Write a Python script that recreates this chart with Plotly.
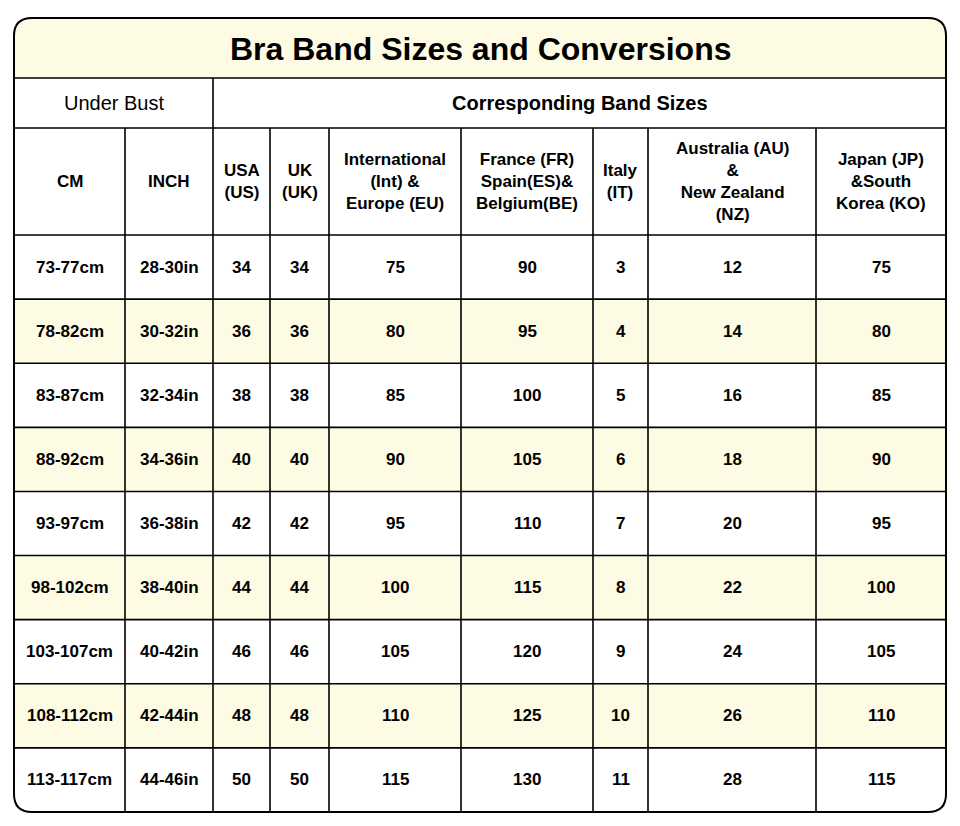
import plotly.graph_objects as go

title = "Bra Band Sizes and Conversions"
group_left = "Under Bust"
group_right = "Corresponding Band Sizes"
headers = ["CM", "INCH", "USA<br>(US)", "UK<br>(UK)", "International<br>(Int) &<br>Europe (EU)",
           "France (FR)<br>Spain(ES)&<br>Belgium(BE)", "Italy<br>(IT)",
           "Australia (AU)<br>&<br>New Zealand<br>(NZ)", "Japan (JP)<br>&South<br>Korea (KO)"]

cm = ["73-77cm", "78-82cm", "83-87cm", "88-92cm", "93-97cm", "98-102cm", "103-107cm", "108-112cm", "113-117cm"]
inch = ["28-30in", "30-32in", "32-34in", "34-36in", "36-38in", "38-40in", "40-42in", "42-44in", "44-46in"]
us = [34, 36, 38, 40, 42, 44, 46, 48, 50]
uk = [34, 36, 38, 40, 42, 44, 46, 48, 50]
eu = [75, 80, 85, 90, 95, 100, 105, 110, 115]
fr = [90, 95, 100, 105, 110, 115, 120, 125, 130]
it = [3, 4, 5, 6, 7, 8, 9, 10, 11]
au = [12, 14, 16, 18, 20, 22, 24, 26, 28]
jp = [75, 80, 85, 90, 95, 100, 105, 110, 115]
columns = [cm, inch, us, uk, eu, fr, it, au, jp]

# layout geometry (pixels)
xs = [14, 125, 213, 270, 329, 461, 593, 648, 816, 946]
y_title, y_grp, y_hdr, y_data = 18, 78, 128, 235
row_h = (812 - 235) / 9
ys = [y_data + i * row_h for i in range(10)]
x0, x1, y1 = xs[0], xs[-1], ys[-1]
r = 18
yellow = "#fdfbe3"
line = dict(color="black", width=1.6)
font = "Liberation Sans, Arial, sans-serif"
off = 8  # page body margin

shapes = []
annotations = []

def rounded(fill, lw):
    p = (f"M{x0+r},{y_title} L{x1-r},{y_title} Q{x1},{y_title} {x1},{y_title+r} "
         f"L{x1},{y1-r} Q{x1},{y1} {x1-r},{y1} L{x0+r},{y1} Q{x0},{y1} {x0},{y1-r} "
         f"L{x0},{y_title+r} Q{x0},{y_title} {x0+r},{y_title} Z")
    return dict(type="path", path=p, fillcolor=fill, line=dict(color="black", width=lw), layer="below")

shapes.append(rounded("white", 0))
# title band
shapes.append(dict(type="path", layer="below", fillcolor=yellow, line=dict(width=0),
                   path=f"M{x0},{y_grp} L{x0},{y_title+r} Q{x0},{y_title} {x0+r},{y_title} "
                        f"L{x1-r},{y_title} Q{x1},{y_title} {x1},{y_title+r} L{x1},{y_grp} Z"))
for i in range(9):
    if i % 2 == 1:
        shapes.append(dict(type="rect", x0=x0, x1=x1, y0=ys[i], y1=ys[i+1], fillcolor=yellow,
                           line=dict(width=0), layer="below"))
# horizontal lines
for y in [y_grp, y_hdr] + ys[:-1]:
    shapes.append(dict(type="line", x0=x0, x1=x1, y0=y, y1=y, line=line))
# vertical lines
shapes.append(dict(type="line", x0=xs[2], x1=xs[2], y0=y_grp, y1=y1, line=line))
for x in xs[1:-1]:
    if x != xs[2]:
        shapes.append(dict(type="line", x0=x, x1=x, y0=y_hdr, y1=y1, line=line))
shapes.append(rounded("rgba(0,0,0,0)", 2))

def text(x, y, s, size, bold=True):
    annotations.append(dict(x=x, y=y, text=f"<b>{s}</b>" if bold else s, showarrow=False,
                            font=dict(size=size, color="black", family=font)))

text((x0 + x1) / 2, (y_title + y_grp) / 2 + 1, title, 32)
text((xs[0] + xs[2]) / 2, (y_grp + y_hdr) / 2, group_left, 20, bold=False)
text((xs[2] + xs[-1]) / 2, (y_grp + y_hdr) / 2, group_right, 20)
for j, h in enumerate(headers):
    text((xs[j] + xs[j+1]) / 2, (y_hdr + y_data) / 2, h, 17)
for j, col in enumerate(columns):
    for i, v in enumerate(col):
        text((xs[j] + xs[j+1]) / 2, (ys[i] + ys[i+1]) / 2, v, 17)

fig = go.Figure()
fig.update_layout(width=960, height=826, margin=dict(l=0, r=0, t=0, b=0),
                  paper_bgcolor="white", plot_bgcolor="white",
                  xaxis=dict(range=[off, 960 + off], visible=False, fixedrange=True),
                  yaxis=dict(range=[826 + off, off], visible=False, fixedrange=True),
                  shapes=shapes, annotations=annotations, showlegend=False)
fig.write_html("out.html")
